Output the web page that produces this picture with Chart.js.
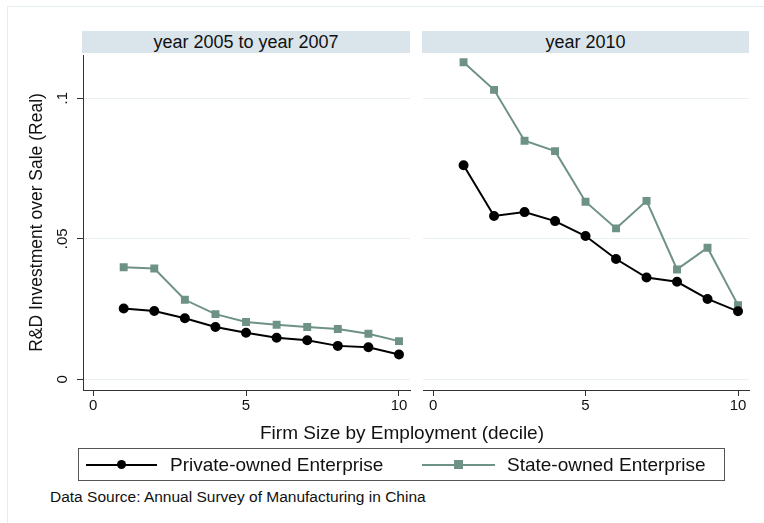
<!DOCTYPE html>
<html>
<head>
<meta charset="utf-8">
<script src="https://cdn.jsdelivr.net/npm/chart.js@4"></script>
<style>
  body { margin: 0; background: #fff; font-family: "Liberation Sans", Arial, sans-serif; }
  #wrap { position: relative; width: 764px; height: 523px; overflow: hidden; background: #fff; }
  #frame { position: absolute; left: 7px; top: 6px; width: 800px; height: 600px;
           border-top: 1px solid #e4edf0; border-left: 1px solid #e4edf0; }
  canvas { position: absolute; top: 0; }
  .strip { position: absolute; top: 31px; height: 22px; background: #d9e5eb;
           font-size: 18px; line-height: 22px; text-align: center; color: #111; }
  #xtitle { position: absolute; left: 0; width: 804px; top: 422px; text-align: center;
            font-size: 19px; line-height: 22px; color: #111; }
  #legend { position: absolute; left: 78px; top: 448px; width: 645px; height: 31px;
            border: 1px solid #555; }
  .lline { position: absolute; height: 2px; top: 15px; }
  .ltext { position: absolute; top: 5px; font-size: 19px; line-height: 22px; color: #111; white-space: nowrap; }
  #source { position: absolute; left: 50px; top: 488px; font-size: 15.5px; line-height: 18px; color: #111; }
</style>
</head>
<body>
<div id="wrap">
  <div id="frame"></div>
  <canvas id="left" width="420" height="425" style="left:0"></canvas>
  <canvas id="right" width="345" height="425" style="left:412px"></canvas>
  <div class="strip" id="strip1" style="left:82px; width:328px"></div>
  <div class="strip" id="strip2" style="left:422px; width:327px"></div>
  <div id="xtitle"></div>
  <div id="legend">
    <div class="lline" style="left:7px; width:71px; background:#000"></div>
    <div style="position:absolute; left:38px; top:11px; width:9px; height:9px; border-radius:50%; background:#000"></div>
    <div class="ltext" id="lab1" style="left:91px"></div>
    <div class="lline" style="left:343px; width:73px; background:#6e9285"></div>
    <div style="position:absolute; left:375px; top:11px; width:9px; height:9px; background:#6e9285"></div>
    <div class="ltext" id="lab2" style="left:428px"></div>
  </div>
  <div id="source">Data Source: Annual Survey of Manufacturing in China</div>
</div>
<script>
// Data
const deciles = [1, 2, 3, 4, 5, 6, 7, 8, 9, 10];
const panelTitles = ['year 2005 to year 2007', 'year 2010'];
const seriesNames = ['Private-owned Enterprise', 'State-owned Enterprise'];

const privateEarly = [0.0252, 0.0243, 0.0217, 0.0186, 0.0166, 0.0148, 0.0139, 0.0119, 0.0114, 0.0088];
const stateEarly = [0.0399, 0.0394, 0.0283, 0.0232, 0.0204, 0.0194, 0.0186, 0.0179, 0.0162, 0.0136];
const private2010 = [0.0762, 0.0581, 0.0595, 0.0563, 0.0510, 0.0428, 0.0362, 0.0347, 0.0286, 0.0242];
const state2010 = [0.1128, 0.1030, 0.0849, 0.0812, 0.0632, 0.0537, 0.0635, 0.0391, 0.0468, 0.0264];

const xTicks = [0, 5, 10];
const yTicks = [0, 0.05, 0.1];
const yTickLabels = ['0', '.05', '.1'];
const xTitle = 'Firm Size by Employment (decile)';
const yTitle = 'R&D Investment over Sale (Real)';

const PRIVATE_COLOR = '#000000';
const STATE_COLOR = '#6e9285';
const GRID_COLOR = '#e8f0f1';
const FONT = '"Liberation Sans", Arial, sans-serif';

document.getElementById('strip1').textContent = panelTitles[0];
document.getElementById('strip2').textContent = panelTitles[1];
document.getElementById('xtitle').textContent = xTitle;
document.getElementById('lab1').textContent = seriesNames[0];
document.getElementById('lab2').textContent = seriesNames[1];

function makeDatasets(priv, state) {
  return [
    {
      label: seriesNames[0],
      data: deciles.map((d, i) => ({ x: d, y: priv[i] })),
      borderColor: PRIVATE_COLOR,
      backgroundColor: PRIVATE_COLOR,
      borderWidth: 2,
      pointStyle: 'circle',
      pointRadius: 4,
      tension: 0,
    },
    {
      label: seriesNames[1],
      data: deciles.map((d, i) => ({ x: d, y: state[i] })),
      borderColor: STATE_COLOR,
      backgroundColor: STATE_COLOR,
      borderWidth: 2,
      pointStyle: 'rect',
      pointRadius: 4.2,
      tension: 0,
    },
  ];
}

function makePanel(canvasId, priv, state, showY) {
  const ctx = document.getElementById(canvasId).getContext('2d');
  return new Chart(ctx, {
    type: 'line',
    data: { datasets: makeDatasets(priv, state) },
    options: {
      responsive: false,
      animation: false,
      devicePixelRatio: 1,
      layout: { padding: { top: 55, right: showY ? 10 : 8, left: 0, bottom: 0 } },
      plugins: { legend: { display: false }, tooltip: { enabled: false } },
      scales: {
        x: {
          type: 'linear',
          min: -0.33,
          max: 10.36,
          afterBuildTicks: (s) => { s.ticks = xTicks.map(v => ({ value: v })); },
          afterFit: (s) => { s.height = 35; },
          ticks: { color: '#111', font: { family: FONT, size: 15 }, padding: 1, maxRotation: 0 },
          grid: { drawOnChartArea: false, drawTicks: true, tickLength: 6, tickColor: '#333' },
          border: { display: true, color: '#333', width: 1 },
        },
        y: {
          min: -0.0038,
          max: 0.1154,
          afterBuildTicks: (s) => { s.ticks = yTicks.map(v => ({ value: v })); },
          afterFit: (s) => { s.width = showY ? 83 : 11; },
          ticks: {
            display: showY,
            color: '#111',
            font: { family: FONT, size: 15 },
            minRotation: 90,
            maxRotation: 90,
            crossAlign: 'center',
            padding: 4,
            callback: (v, i) => yTickLabels[i],
          },
          grid: { color: GRID_COLOR, lineWidth: 1, drawTicks: showY, tickLength: 6, tickColor: '#333' },
          border: { display: showY, color: '#333', width: 1 },
          title: {
            display: showY,
            text: yTitle,
            color: '#111',
            font: { family: FONT, size: 17.5 },
            padding: { top: 27, bottom: 0 },
          },
        },
      },
    },
  });
}

makePanel('left', privateEarly, stateEarly, true);
makePanel('right', private2010, state2010, false);
</script>
</body>
</html>
